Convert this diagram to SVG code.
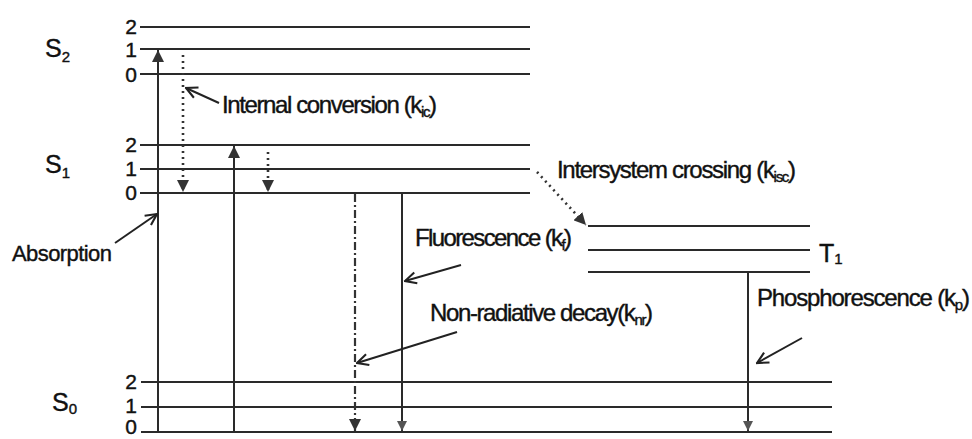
<svg xmlns="http://www.w3.org/2000/svg" width="972" height="439" viewBox="0 0 972 439">
<defs>
<style>
.lv{stroke:#2a2a2a;stroke-width:2;fill:none}
.ar{stroke:#2a2a2a;stroke-width:2;fill:none}
.dot{stroke:#333;stroke-width:2.6;fill:none;stroke-dasharray:2 4}
.dd{stroke:#333;stroke-width:2.2;fill:none;stroke-dasharray:8 3 2 3}
.ptr{stroke:#222;stroke-width:2;fill:none;marker-end:url(#open)}
text{font-family:"Liberation Sans",Arial,sans-serif;fill:#111;stroke:#111;stroke-width:0.4}
.lab{font-size:24px}
.abs{font-size:22px}
.num{font-size:21px;text-anchor:middle}
.st{font-size:25px}
.sub{font-size:15px}
</style>
<marker id="open" viewBox="0 0 10 10" refX="9" refY="5" markerWidth="14" markerHeight="14" markerUnits="userSpaceOnUse" orient="auto">
<path d="M1,1 L9,5 L1,9" fill="none" stroke="#222" stroke-width="1.5"/>
</marker>
<marker id="tri" viewBox="0 0 10 10" refX="10" refY="5" markerWidth="12" markerHeight="12" markerUnits="userSpaceOnUse" orient="auto">
<path d="M0,0 L10,5 L0,10 z" fill="#333"/>
</marker>
<marker id="tris" viewBox="0 0 10 10" refX="10" refY="5" markerWidth="10" markerHeight="10" markerUnits="userSpaceOnUse" orient="auto">
<path d="M0,0 L10,5 L0,10 z" fill="#555"/>
</marker>
</defs>
<rect width="972" height="439" fill="#fff"/>

<g id="S2">
<text class="st" x="45" y="57">S<tspan class="sub" dy="5">2</tspan></text>
<text class="num" x="131" y="34">2</text>
<text class="num" x="131" y="57">1</text>
<text class="num" x="131" y="82">0</text>
<line class="lv" x1="140" y1="27" x2="530" y2="27"/>
<line class="lv" x1="140" y1="49" x2="530" y2="49"/>
<line class="lv" x1="140" y1="74" x2="530" y2="74"/>
</g>

<g id="S1">
<text class="st" x="45" y="173">S<tspan class="sub" dy="5">1</tspan></text>
<text class="num" x="131" y="152">2</text>
<text class="num" x="131" y="176">1</text>
<text class="num" x="131" y="200">0</text>
<line class="lv" x1="140" y1="145" x2="530" y2="145"/>
<line class="lv" x1="140" y1="169" x2="530" y2="169"/>
<line class="lv" x1="140" y1="193" x2="530" y2="193"/>
</g>

<g id="T1">
<line class="lv" x1="588" y1="226" x2="810" y2="226"/>
<line class="lv" x1="588" y1="250" x2="810" y2="250"/>
<line class="lv" x1="588" y1="272" x2="810" y2="272"/>
<text class="st" x="819" y="262">T<tspan class="sub" dy="2">1</tspan></text>
</g>

<g id="S0">
<text class="st" x="52" y="411">S<tspan class="sub" dy="3">0</tspan></text>
<text class="num" x="131" y="389">2</text>
<text class="num" x="131" y="413">1</text>
<text class="num" x="131" y="434">0</text>
<line class="lv" x1="141" y1="382" x2="832" y2="382"/>
<line class="lv" x1="141" y1="407" x2="832" y2="407"/>
<line class="lv" x1="141" y1="432" x2="832" y2="432"/>
</g>

<g id="connectors">
<line class="ar" x1="158" y1="432" x2="158" y2="50" marker-end="url(#tri)"/>
<line class="ar" x1="234" y1="432" x2="234" y2="146" marker-end="url(#tri)"/>
<line class="dot" x1="183" y1="55" x2="183" y2="192" marker-end="url(#tri)"/>
<line class="dot" x1="268" y1="152" x2="268" y2="192" marker-end="url(#tri)"/>
<line class="dd" x1="355" y1="194" x2="355" y2="431" marker-end="url(#tri)"/>
<line class="ar" x1="402" y1="193" x2="402" y2="431" marker-end="url(#tris)"/>
<line class="ar" x1="748" y1="272" x2="748" y2="431" marker-end="url(#tris)"/>
<line class="dot" x1="537" y1="172" x2="586" y2="225" marker-end="url(#tri)"/>
<line class="ptr" x1="219" y1="103" x2="186" y2="88"/>
<line class="ptr" x1="115" y1="243" x2="157" y2="214"/>
<line class="ptr" x1="461" y1="265" x2="405" y2="281"/>
<line class="ptr" x1="457" y1="332" x2="357" y2="363"/>
<line class="ptr" x1="802" y1="338" x2="757" y2="363"/>
</g>

<g id="labels">
<text class="lab" x="222" y="113" textLength="215">Internal conversion (k<tspan class="sub" dy="4">ic</tspan><tspan dy="-4">)</tspan></text>
<text class="lab" x="557" y="178" textLength="239">Intersystem crossing (k<tspan class="sub" dy="4">isc</tspan><tspan dy="-4">)</tspan></text>
<text class="lab" x="415" y="246" textLength="157">Fluorescence (k<tspan class="sub" dy="4">f</tspan><tspan dy="-4">)</tspan></text>
<text class="lab" x="430" y="321" textLength="223">Non-radiative decay(k<tspan class="sub" dy="4">nr</tspan><tspan dy="-4">)</tspan></text>
<text class="lab" x="757" y="306" textLength="213">Phosphorescence (k<tspan class="sub" dy="4">p</tspan><tspan dy="-4">)</tspan></text>
<text class="abs" x="12" y="261" textLength="100">Absorption</text>
</g>
</svg>
